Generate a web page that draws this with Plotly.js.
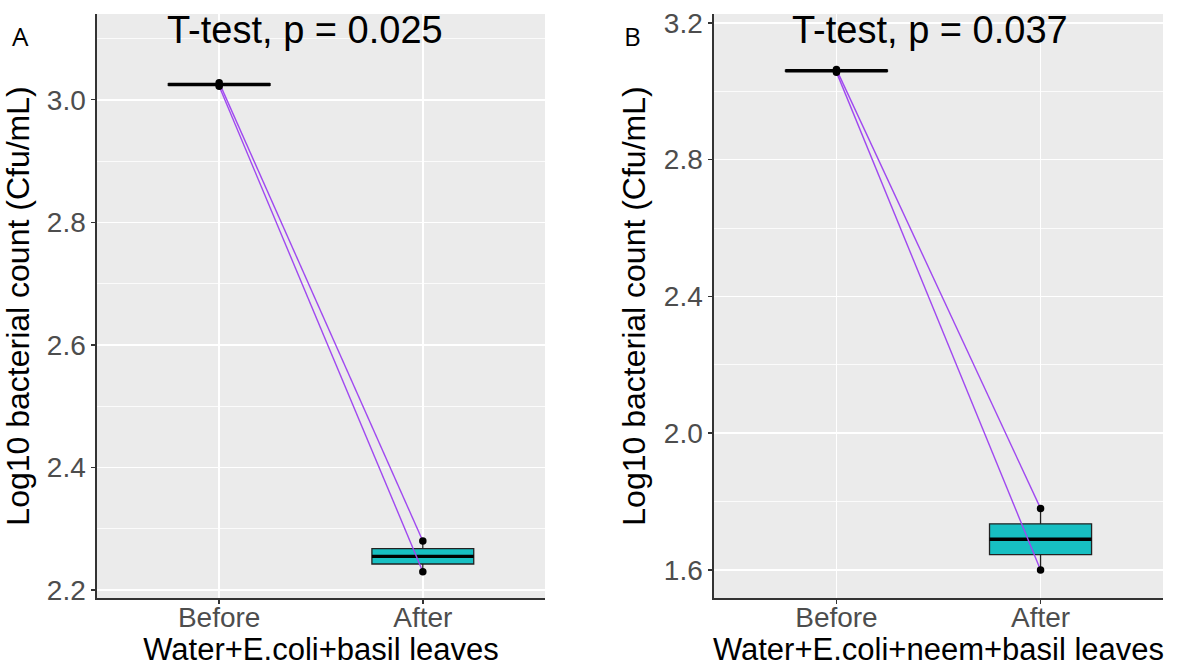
<!DOCTYPE html>
<html>
<head>
<meta charset="utf-8">
<script src="https://cdn.plot.ly/plotly-3.0.1.min.js"></script>
<style>html,body{margin:0;padding:0;background:#fff;}#chart{width:1183px;height:667px;}</style>
</head>
<body>
<div id="chart"></div>
<script>
// ---- data ----
const categories = ['Before', 'After'];
const beforeA = [3.022, 3.028];
const afterA  = [2.230, 2.280];
const beforeB = [3.056, 3.064];
const afterB  = [1.600, 1.780];
const pValueA = '0.025';
const pValueB = '0.037';
const xTitleA = 'Water+E.coli+basil leaves';
const xTitleB = 'Water+E.coli+neem+basil leaves';
const yTitle = 'Log10 bacterial count (Cfu/mL)';
const yTicksA = [2.2, 2.4, 2.6, 2.8, 3.0];
const yTicksB = [1.6, 2.0, 2.4, 2.8, 3.2];

// ---- helpers ----
function quantile(arr, p) {
  const s = arr.slice().sort((a, b) => a - b);
  const h = (s.length - 1) * p;
  const lo = Math.floor(h), hi = Math.ceil(h);
  return s[lo] + (h - lo) * (s[hi] - s[lo]);
}
const BOXW = 0.5;
const fills = ['#F8766D', '#17BFC2'];
const lineCol = '#A048F0';
const FONT = 'Liberation Sans, Arial, sans-serif';

function panelTraces(before, after, xa, ya) {
  const groups = [before, after];
  const traces = [];
  groups.forEach((vals, gi) => {
    const pos = gi + 1;
    traces.push({
      type: 'box', xaxis: xa, yaxis: ya,
      x: [pos],
      q1: [quantile(vals, 0.25)], median: [quantile(vals, 0.5)], q3: [quantile(vals, 0.75)],
      lowerfence: [Math.min(...vals)], upperfence: [Math.max(...vals)],
      width: BOXW, whiskerwidth: 0, boxpoints: false,
      fillcolor: fills[gi], line: {color: '#222222', width: 1.3},
      hoverinfo: 'skip', showlegend: false
    });
    const m = quantile(vals, 0.5);
    traces.push({
      type: 'scatter', mode: 'lines', xaxis: xa, yaxis: ya,
      x: [pos - BOXW / 2, pos + BOXW / 2], y: [m, m],
      line: {color: '#000000', width: 3.4}, hoverinfo: 'skip', showlegend: false
    });
  });
  before.forEach((b, i) => {
    traces.push({
      type: 'scatter', mode: 'lines', xaxis: xa, yaxis: ya,
      x: [1, 2], y: [b, after[i]],
      line: {color: lineCol, width: 1.4}, hoverinfo: 'skip', showlegend: false
    });
  });
  groups.forEach((vals, gi) => {
    traces.push({
      type: 'scatter', mode: 'markers', xaxis: xa, yaxis: ya,
      x: vals.map(() => gi + 1), y: vals,
      marker: {color: '#000000', size: 7.5}, hoverinfo: 'skip', showlegend: false
    });
  });
  return traces;
}

const data = [].concat(
  panelTraces(beforeA, afterA, 'x', 'y'),
  panelTraces(beforeB, afterB, 'x2', 'y2')
);

const W = 1183, H = 667;
const px = v => v / W;
const py = v => 1 - v / H;

function xaxisCfg(domain, title) {
  return {
    domain: domain, range: [0.4, 2.6],
    tickvals: [1, 2], ticktext: categories,
    showgrid: true, gridcolor: '#FFFFFF', gridwidth: 1.6,
    zeroline: false, showline: true, linecolor: '#333333', linewidth: 1.6,
    ticks: 'outside', ticklen: 4, tickwidth: 1.4, tickcolor: '#333333',
    ticklabelstandoff: -10,
    tickfont: {family: FONT, size: 28, color: '#4D4D4D'},
    title: {text: title, standoff: 8, font: {family: FONT, size: 31, color: '#000000'}},
    fixedrange: true
  };
}
function yaxisCfg(range, ticks, minorStep, anchorX) {
  return {
    domain: [py(598), py(14)], range: range,
    tickvals: ticks, ticktext: ticks.map(t => t.toFixed(1)),
    showgrid: true, gridcolor: '#FFFFFF', gridwidth: 1.6,
    minor: {dtick: minorStep, showgrid: true, gridcolor: '#FFFFFF', gridwidth: 0.8},
    zeroline: false, showline: true, linecolor: '#333333', linewidth: 1.6,
    ticks: 'outside', ticklen: 4, tickwidth: 1.4, tickcolor: '#333333',
    tickfont: {family: FONT, size: 28, color: '#4D4D4D'},
    title: {text: yTitle, standoff: 8, font: {family: FONT, size: 32, color: '#000000'}},
    anchor: anchorX, fixedrange: true
  };
}

const layout = {
  width: W, height: H,
  margin: {l: 0, r: 0, t: 0, b: 0},
  paper_bgcolor: '#FFFFFF', plot_bgcolor: '#EBEBEB',
  showlegend: false,
  xaxis: Object.assign(xaxisCfg([px(97), px(545)], xTitleA), {anchor: 'y'}),
  yaxis: yaxisCfg([2.187, 3.14], yTicksA, 0.1, 'x'),
  xaxis2: Object.assign(xaxisCfg([px(714), px(1163)], xTitleB), {anchor: 'y2'}),
  yaxis2: yaxisCfg([1.518, 3.226], yTicksB, 0.2, 'x2'),
  annotations: [
    {xref: 'x', yref: 'paper', x: 1.42, y: py(30), text: 'T-test, p = ' + pValueA, showarrow: false,
     xanchor: 'center', yanchor: 'middle', font: {family: FONT, size: 38, color: '#000000'}},
    {xref: 'x2', yref: 'paper', x: 1.46, y: py(30), text: 'T-test, p = ' + pValueB, showarrow: false,
     xanchor: 'center', yanchor: 'middle', font: {family: FONT, size: 38, color: '#000000'}},
    {xref: 'paper', yref: 'paper', x: px(20), y: py(36), text: 'A', showarrow: false,
     xanchor: 'center', yanchor: 'middle', font: {family: 'Open Sans, sans-serif', size: 26, color: '#000000'}},
    {xref: 'paper', yref: 'paper', x: px(632), y: py(36), text: 'B', showarrow: false,
     xanchor: 'center', yanchor: 'middle', font: {family: 'Open Sans, sans-serif', size: 26, color: '#000000'}}
  ]
};

Plotly.newPlot('chart', data, layout, {staticPlot: true, displayModeBar: false});
</script>
</body>
</html>
